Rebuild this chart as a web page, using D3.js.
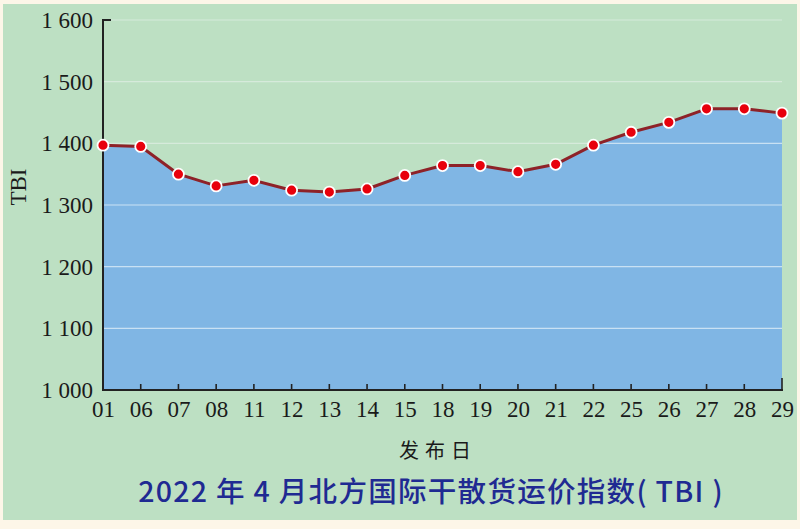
<!DOCTYPE html>
<html><head><meta charset="utf-8">
<script src="https://cdn.jsdelivr.net/npm/d3@7"></script>
<style>
html,body{margin:0;padding:0;background:#fdf6e8;}
svg{display:block;}
</style></head>
<body>
<svg id="chart" width="800" height="529"></svg>
<script>
const categories = ["01","06","07","08","11","12","13","14","15","18","19","20","21","22","25","26","27","28","29"];
const tbiValues = [1397,1395,1350,1331,1340,1324,1321,1326,1348,1364,1364,1354,1366,1397,1418,1434,1456,1456,1449];
const yTicks = [1000,1100,1200,1300,1400,1500,1600];
const yTickLabels = ["1 000","1 100","1 200","1 300","1 400","1 500","1 600"];
const title = "2022 年 4 月北方国际干散货运价指数( TBI )";
const xTitle = "发布日";
const yTitle = "TBI";

const svg = d3.select("#chart");
svg.append("rect").attr("x",3).attr("y",4).attr("width",794).attr("height",516).attr("fill","#bde0c3");

const pL = 103, pR = 782, pT = 20, pB = 390;
const x = d3.scalePoint().domain(categories).range([pL, pR]);
const y = d3.scaleLinear().domain([1000,1600]).range([pB, pT]);

// gridlines
svg.append("g").selectAll("line").data(yTicks.filter(d=>d>1000)).join("line")
  .attr("x1",pL).attr("x2",pR).attr("y1",d=>y(d)).attr("y2",d=>y(d))
  .attr("stroke","#d6eadb").attr("stroke-width",1.2);

// area
const area = d3.area().x((d,i)=>x(categories[i])).y0(pB).y1(d=>y(d));
svg.append("clipPath").attr("id","areaClip").append("path").datum(tbiValues).attr("d",area);
svg.append("path").datum(tbiValues).attr("d",area).attr("fill","#80b6e4");

// gridlines over area
svg.append("g").selectAll("line").data(yTicks.filter(d=>d>1000 && d<1600)).join("line")
  .attr("x1",pL).attr("x2",pR).attr("y1",d=>y(d)).attr("y2",d=>y(d))
  .attr("stroke","#c9e1f3").attr("stroke-width",1.2)
  .attr("clip-path","url(#areaClip)");

// line
const line = d3.line().x((d,i)=>x(categories[i])).y(d=>y(d));
svg.append("path").datum(tbiValues).attr("d",line).attr("fill","none").attr("stroke","#8e2228")
  .attr("stroke-width",3).attr("stroke-linejoin","round");

// axes
const yAxis = d3.axisLeft(y).tickValues(yTicks).tickFormat((d,i)=>yTickLabels[i]).tickSize(0).tickPadding(10);
const gy = svg.append("g").attr("transform",`translate(${pL},0)`).call(yAxis);
gy.select(".domain").remove();
gy.selectAll("text").attr("font-family","'Liberation Serif', serif").attr("font-size",23).attr("fill","#1a1a1a");
svg.append("line").attr("x1",pL).attr("x2",pL).attr("y1",pT-1).attr("y2",pB).attr("stroke","#222").attr("stroke-width",2);
svg.append("line").attr("x1",pL-1).attr("x2",pL+8).attr("y1",pT).attr("y2",pT).attr("stroke","#222").attr("stroke-width",2);

const xAxis = d3.axisBottom(x).tickSize(0).tickPadding(10);
const gx = svg.append("g").attr("transform",`translate(0,${pB})`).call(xAxis);
gx.select(".domain").remove();
gx.selectAll("text").attr("font-family","'Liberation Serif', serif").attr("font-size",23).attr("fill","#1a1a1a").attr("dy","0.75em");
svg.append("line").attr("x1",pL-1).attr("x2",pR+1).attr("y1",pB).attr("y2",pB).attr("stroke","#222").attr("stroke-width",2);
svg.append("g").selectAll("line").data(categories.slice(1)).join("line")
  .attr("x1",d=>x(d)).attr("x2",d=>x(d)).attr("y1",pB).attr("y2",d=>d==="29"?pB-12:pB-6)
  .attr("stroke","#222").attr("stroke-width",1.6);

// points
svg.append("g").selectAll("circle").data(tbiValues).join("circle")
  .attr("cx",(d,i)=>x(categories[i])).attr("cy",d=>y(d)).attr("r",5.5)
  .attr("fill","#e8000c").attr("stroke","#fff").attr("stroke-width",1.8);

// titles
svg.append("text").attr("x",18).attr("y",187).attr("transform","rotate(-90,18,187)")
  .attr("text-anchor","middle").attr("dominant-baseline","central")
  .attr("font-family","'Liberation Serif', serif").attr("font-size",23).attr("fill","#1a1a1a").text(yTitle);
svg.append("text").attr("x",438).attr("y",458).attr("text-anchor","middle")
  .attr("font-family","'Noto Sans CJK SC', sans-serif").attr("font-size",20).attr("letter-spacing",6)
  .attr("fill","#1a1a1a").text(xTitle);
svg.append("text").attr("x",431).attr("y",502).attr("text-anchor","middle")
  .attr("font-family","'Noto Sans CJK SC', sans-serif").attr("font-size",28.5).attr("font-weight",500)
  .attr("letter-spacing",1.3)
  .attr("fill","#1f2a92").text(title);
</script>
</body></html>
